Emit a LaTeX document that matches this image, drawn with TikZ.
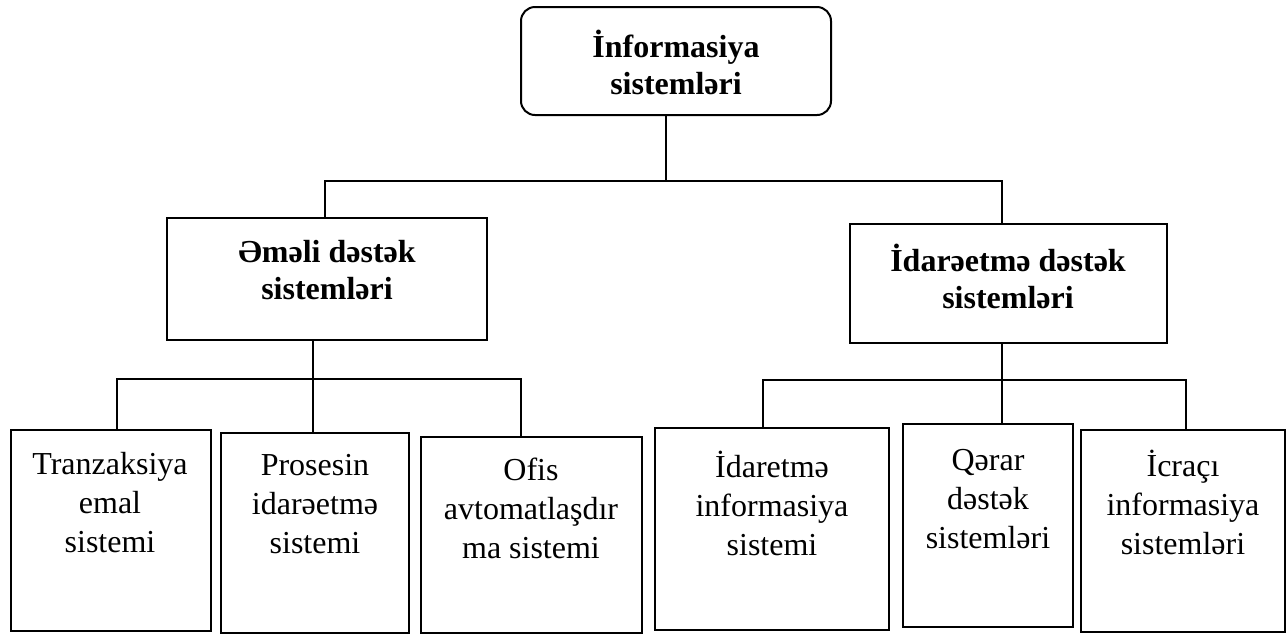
\documentclass[tikz,border=0pt]{standalone}
\usepackage{fontspec}
\setmainfont{Liberation Serif}
\usetikzlibrary{fit}
\begin{document}
\begin{tikzpicture}[x=0.5pt,y=-0.5pt,
  boxshape/.style={draw, line width=0.8pt, inner sep=0pt, outer sep=0pt},
  toptxt/.style={font=\fontsize{16}{18.5}\selectfont\bfseries, align=center, inner sep=0pt},
  subtxt/.style={font=\fontsize{16}{19.5}\selectfont, align=center, inner sep=0pt},
  conn/.style={line width=1pt}]
\useasboundingbox[fill=white] (0,0) rectangle (1287,634);
% boxes
\node[boxshape, line width=1pt, rounded corners=7pt, fit={(521,7)(831,115)}] (top) {};
\node[boxshape, fit={(167,218)(487,340)}] (L) {};
\node[boxshape, fit={(850,224)(1167,343)}] (R) {};
\node[boxshape, fit={(11,430)(211,631)}] (b1) {};
\node[boxshape, fit={(221,433)(409,633)}] (b2) {};
\node[boxshape, fit={(421,437)(642,633)}] (b3) {};
\node[boxshape, fit={(655,428)(889,630)}] (b4) {};
\node[boxshape, fit={(903,424)(1073,627)}] (b5) {};
\node[boxshape, fit={(1081,430)(1285,632)}] (b6) {};
% texts
\node[toptxt] (ttop) at (676,62) {İnformasiya\\sistemləri};
\node[toptxt] (tL) at (327,270) {Əməli dəstək\\sistemləri};
\node[toptxt] (tR) at (1008,276) {İdarəetmə dəstək\\sistemləri};
\node[subtxt] (t1) at (110,503) {Tranzaksiya\\emal\\sistemi};
\node[subtxt] (t2) at (315,504) {Prosesin\\idarəetmə\\sistemi};
\node[subtxt] (t3) at (531,508) {Ofis\\avtomatlaşdır\\ma sistemi};
\node[subtxt] (t4) at (772,503) {İdaretmə\\informasiya\\sistemi};
\node[subtxt] (t5) at (988,499) {Qərar\\dəstək\\sistemləri};
\node[subtxt] (t6) at (1183,502) {İcraçı\\informasiya\\sistemləri};
% junction coordinates
\coordinate (j0) at (666,181);
\coordinate (j0L) at (325,181);
\coordinate (j0R) at (1002,181);
\coordinate (j1) at (313,379);
\coordinate (j1L) at (117,379);
\coordinate (j1R) at (521,379);
\coordinate (j2) at (1002,380);
\coordinate (j2L) at (763,380);
\coordinate (j2R) at (1186,380);
% connectors
\draw[conn] (top.south -| j0) -- (j0);
\draw[conn] (L.north -| j0L) -- (j0L) -- (j0R) -- (R.north -| j0R);
\draw[conn] (L.south -| j1) -- (b2.north -| j1);
\draw[conn] (b1.north -| j1L) -- (j1L) -- (j1R) -- (b3.north -| j1R);
\draw[conn] (R.south -| j2) -- (b5.north -| j2);
\draw[conn] (b4.north -| j2L) -- (j2L) -- (j2R) -- (b6.north -| j2R);
\end{tikzpicture}
\end{document}
